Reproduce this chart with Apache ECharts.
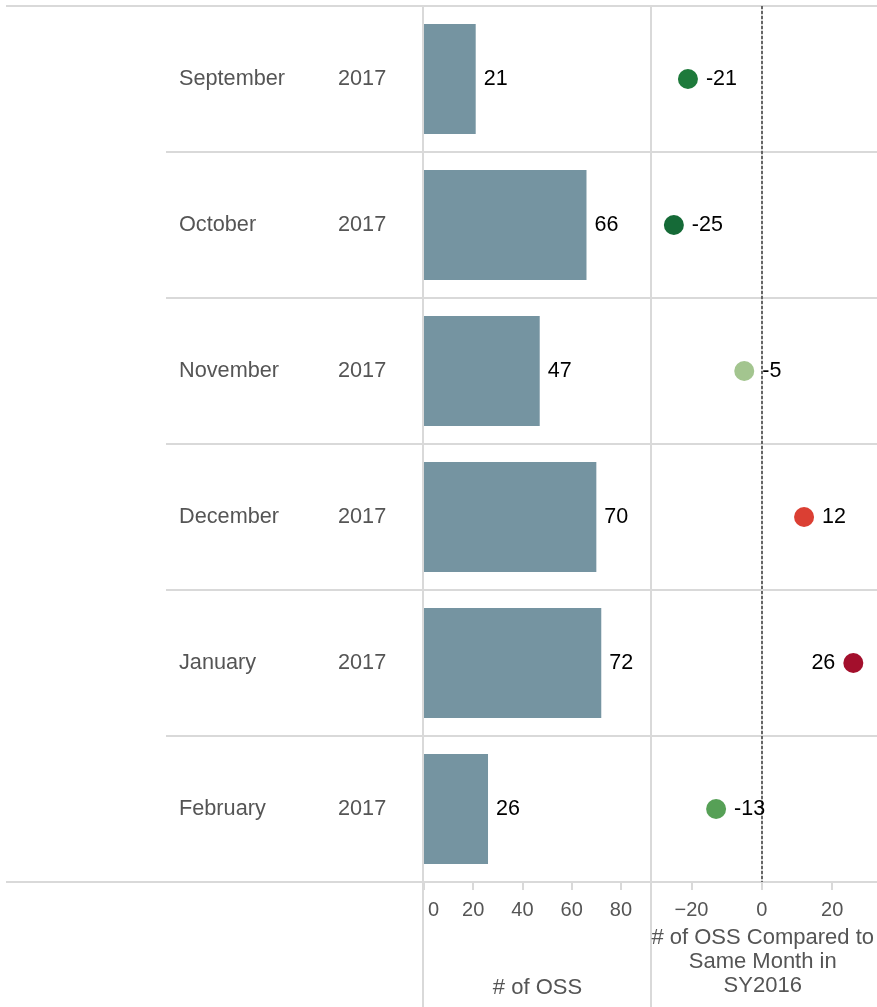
<!DOCTYPE html>
<html>
<head>
<meta charset="utf-8">
<script src="https://cdn.jsdelivr.net/npm/echarts@6/dist/echarts.min.js"></script>
<style>
html,body{margin:0;padding:0;background:#fff;}
#c{width:877px;height:1007px;}
</style>
</head>
<body>
<div id="c"></div>
<script>
const months = ['September','October','November','December','January','February'];
const years = ['2017','2017','2017','2017','2017','2017'];
const ossCount = [21, 66, 47, 70, 72, 26];
const ossDiff = [-21, -25, -5, 12, 26, -13];
const barTicks = [0, 20, 40, 60, 80];
const diffTicks = [-20, 0, 20];
const dotColors = ['#1e7a3b', '#156a37', '#a3c58f', '#db3f33', '#a30f2c', '#56a056'];

const FONT = '"Liberation Sans", Arial, sans-serif';
const LINE = '#d9d9d9';
const TXT = '#555555';

const chart = echarts.init(document.getElementById('c'), null, {renderer: 'canvas'});

const option = {
  backgroundColor: '#ffffff',
  animation: false,
  textStyle: {fontFamily: FONT},
  grid: [
    {left: 424, width: 227, top: 6, height: 876},          // 0 bars
    {left: 651, width: 225, top: 6, height: 876},          // 1 dots
    {left: 166, width: 711, top: 6, height: 876},          // 2 row separators
    {left: 6, width: 871, top: 6, height: 876},            // 3 top/bottom lines
    {left: 423, width: 228, top: 6, height: 1001}          // 4 vertical pane lines
  ],
  xAxis: [
    {
      gridIndex: 0, type: 'value', min: 0, max: 92.2,
      axisLine: {show: true, lineStyle: {color: LINE, width: 2}},
      axisTick: {show: true, length: 8, lineStyle: {color: LINE, width: 2}, customValues: barTicks},
      axisLabel: {
        show: true, customValues: barTicks, color: TXT, fontSize: 20, fontFamily: FONT, margin: 18,
        alignMinLabel: 'left',
        formatter: function (v) { return v === 0 ? '{z|0}' : String(v); },
        rich: {z: {color: TXT, fontSize: 20, fontFamily: FONT, padding: [0, 0, 0, 4]}}
      },
      splitLine: {show: false},
      name: '# of OSS', nameLocation: 'middle', nameGap: 95,
      nameTextStyle: {color: TXT, fontSize: 22, fontFamily: FONT}
    },
    {
      gridIndex: 1, type: 'value', min: -31.5, max: 32,
      axisLine: {show: true, onZero: false, lineStyle: {color: LINE, width: 2}},
      axisTick: {show: true, length: 8, lineStyle: {color: LINE, width: 2}, customValues: diffTicks},
      axisLabel: {
        show: true, customValues: diffTicks, color: TXT, fontSize: 20, fontFamily: FONT, margin: 18,
        formatter: function (v) { return String(v).replace('-', '\u2212'); }
      },
      splitLine: {show: false},
      name: '# of OSS Compared to\nSame Month in\nSY2016', nameLocation: 'middle', nameGap: 44,
      nameTextStyle: {color: TXT, fontSize: 22, fontFamily: FONT, lineHeight: 24}
    },
    {gridIndex: 2, type: 'value', show: false},
    {gridIndex: 3, type: 'value', show: false},
    {
      gridIndex: 4, type: 'value', min: 0, max: 1, interval: 1,
      axisLine: {show: false}, axisTick: {show: false}, axisLabel: {show: false},
      splitLine: {show: true, lineStyle: {color: LINE, width: 2}}
    }
  ],
  yAxis: [
    {
      gridIndex: 0, type: 'category', data: months, inverse: true,
      axisLine: {show: false}, axisTick: {show: false},
      axisLabel: {
        show: true, align: 'left', margin: 245,
        formatter: function (v, i) { return '{m|' + v + '}{y|' + years[i] + '}'; },
        rich: {
          m: {width: 159, color: TXT, fontSize: 21.7, fontFamily: FONT},
          y: {color: TXT, fontSize: 21.7, fontFamily: FONT}
        }
      },
      splitLine: {show: false}
    },
    {
      gridIndex: 1, type: 'category', data: months, inverse: true, position: 'right',
      axisLine: {show: true, lineStyle: {color: LINE, width: 2}}, axisTick: {show: false}, axisLabel: {show: false},
      splitLine: {show: false}
    },
    {
      gridIndex: 2, type: 'category', data: months, inverse: true,
      axisLine: {show: false}, axisTick: {show: false}, axisLabel: {show: false},
      splitLine: {show: true, interval: 0, lineStyle: {color: LINE, width: 2}}
    },
    {
      gridIndex: 3, type: 'value', min: 0, max: 1, interval: 1,
      axisLine: {show: false}, axisTick: {show: false}, axisLabel: {show: false},
      splitLine: {show: true, lineStyle: {color: LINE, width: 2}}
    },
    {gridIndex: 4, type: 'value', show: false}
  ],
  series: [
    {
      type: 'bar', xAxisIndex: 0, yAxisIndex: 0,
      data: ossCount, barWidth: 110,
      itemStyle: {color: '#7594a1'},
      label: {show: true, position: 'right', distance: 8, color: '#000', fontSize: 21.5, fontFamily: FONT},
      z: 3
    },
    {
      type: 'scatter', xAxisIndex: 1, yAxisIndex: 1,
      symbolSize: 20,
      data: ossDiff.map(function (v, i) {
        return {
          value: [v, months[i]],
          itemStyle: {color: dotColors[i], opacity: 1},
          label: {position: v > 20 ? 'left' : 'right'}
        };
      }),
      label: {
        show: true, distance: 8, color: '#000', fontSize: 21.5, fontFamily: FONT,
        formatter: function (p) { return String(p.value[0]); }
      },
      markLine: {
        silent: true, symbol: 'none',
        label: {show: false},
        lineStyle: {color: '#666', type: [3, 2], width: 2},
        data: [{xAxis: 0}]
      },
      z: 5
    }
  ]
};
chart.setOption(option);
</script>
</body>
</html>
